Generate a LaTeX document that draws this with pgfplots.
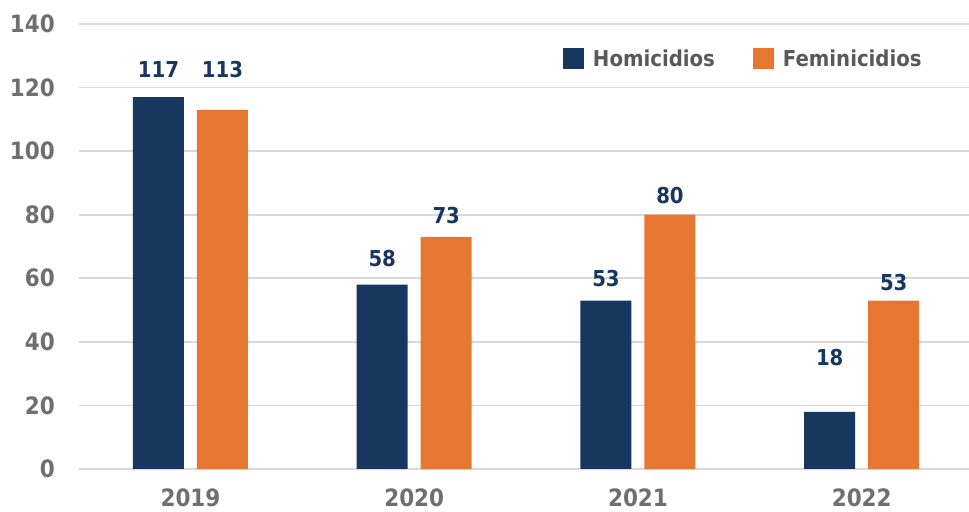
\documentclass[border=0pt]{standalone}
\usepackage{fontspec}
\setmainfont{DejaVu Sans Condensed}
\usepackage{pgfplots}
\usepackage{pgfplotstable}
\pgfplotsset{compat=1.18}
\definecolor{navy}{HTML}{17375E}
\definecolor{orng}{HTML}{E87633}
\definecolor{gridc}{HTML}{D9D9D9}
\definecolor{tickc}{HTML}{6F6F6F}
\definecolor{legc}{HTML}{595959}

% label positions (as placed in the original chart)
\pgfplotstableread{
x       y      label
-0.143  125.8  117
0.143   125.8  113
0.857   66.2   58
1.143   79.9   73
1.857   59.8   53
2.143   86.0   80
2.857   35.2   18
3.143   58.8   53
}\labels

\begin{document}
\begin{tikzpicture}
  \useasboundingbox (-78.6bp,-43bp) rectangle (890.4bp,469bp);
  \begin{axis}[
    scale only axis,
    width=895bp, height=445bp,
    xmin=-0.5, xmax=3.5, ymin=0, ymax=140,
    ytick={0,20,...,140},
    xtick={0,1,2,3},
    xticklabels={2019,2020,2021,2022},
    axis line style={draw=none},
    tick style={draw=none},
    ymajorgrids,
    major grid style={gridc, line width=1.6bp},
    /pgf/number format/assume math mode=true,
    ticklabel style={font=\bfseries\fontsize{24}{24}\selectfont, text=tickc, inner sep=0pt},
    yticklabel style={anchor=east, xshift=-23.6bp},
    xticklabel style={anchor=north, yshift=-20bp},
    legend columns=2,
    legend style={at={(axis description cs:0.541,0.9225)}, anchor=west, draw=none, fill=none,
      inner sep=0pt, font=\bfseries\fontsize{22}{22}\selectfont, text=legc,
      /tikz/every even column/.append style={column sep=38bp},
      /tikz/every odd column/.append style={column sep=9bp},
      nodes={inner sep=0pt}},
    legend image code/.code={\path[#1] (0bp,-10.5bp) rectangle (21bp,10.5bp);},
  ]
  \addplot[ybar, bar width=0.228, bar shift=-0.143, fill=navy, draw=none]
    coordinates {(0,117) (1,58) (2,53) (3,18)};
  \addlegendentry{Homicidios}
  \addplot[ybar, bar width=0.228, bar shift=0.143, fill=orng, draw=none]
    coordinates {(0,113) (1,73) (2,80) (3,53)};
  \addlegendentry{Feminicidios}
  \addplot[draw=none, no marks, forget plot, point meta=explicit symbolic,
    nodes near coords,
    every node near coord/.append style={font=\bfseries\fontsize{22}{22}\selectfont,
      text=navy, inner sep=0pt, anchor=center}]
    table[x=x, y=y, meta=label] {\labels};
  \end{axis}
\end{tikzpicture}
\end{document}
